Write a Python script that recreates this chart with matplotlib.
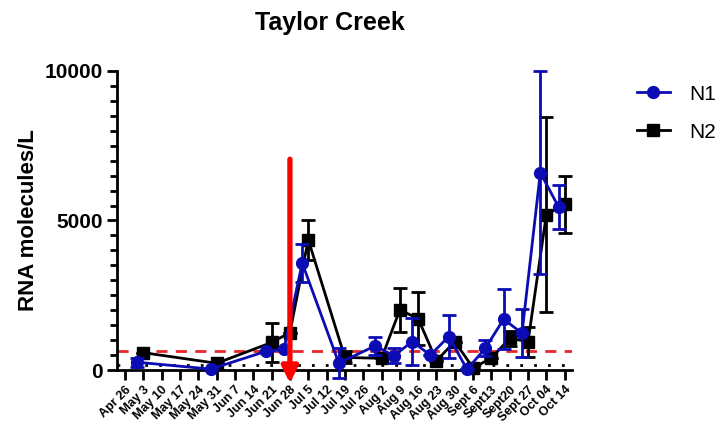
import numpy as np
import matplotlib
matplotlib.use("Agg")
import matplotlib.pyplot as plt
from matplotlib.lines import Line2D

plt.rcParams['font.family'] = ['Liberation Sans', 'DejaVu Sans']

# week labels on the x axis
weeks = ["Apr 26", "May 3", "May 10", "May 17", "May 24", "May 31", "Jun 7",
         "Jun 14", "Jun 21", "Jun 28", "Jul 5", "Jul 12", "Jul 19", "Jul 26",
         "Aug 2", "Aug 9", "Aug 16", "Aug 23", "Aug 30", "Sept 6", "Sept13",
         "Sept20", "Sept 27", "Oct 04", "Oct 14"]

# weeks that were sampled
sampled = ["May 3", "May 31", "Jun 21", "Jun 28", "Jul 5", "Jul 19", "Aug 2",
           "Aug 9", "Aug 16", "Aug 23", "Aug 30", "Sept 6", "Sept13", "Sept20",
           "Sept 27", "Oct 04", "Oct 14"]

n1 = [260, 30, 620, 690, 3580, 230, 810, 470, 950, 500, 1120, 20, 730, 1700,
      1230, 6600, 5450]
n1_err = [150, 0, 0, 0, 650, 500, 310, 250, 780, 0, 730, 0, 270, 1000,
          800, 3400, 750]

n2 = [580, 225, 920, 1250, 4360, 420, 390, 2010, 1720, 310, 950, 70, 400, 1060,
      950, 5200, 5540]
n2_err = [0, 0, 650, 0, 670, 200, 0, 740, 880, 0, 0, 0, 0, 250,
          500, 3250, 950]

threshold = 620   # red dashed line
lod = 170         # black dotted line
event_week = "Jun 28"
arrow_top = 7050

blue = '#0c0cb4'

fig = plt.figure(figsize=(7.22, 4.33), dpi=100)
ax = fig.add_axes([117/722, 1-370/433, (572-117)/722, (370-71)/433])

pos = np.array([weeks.index(w) for w in sampled])

# N2 first so N1 ends up on top
ax.errorbar(pos, n2, yerr=n2_err, color='black', marker='s', markersize=8,
            lw=2, elinewidth=2, capsize=5, capthick=2,
            clip_on=False, zorder=3)
ax.errorbar(pos - 0.33, n1, yerr=n1_err, color=blue, marker='o', markersize=8.5,
            lw=2, elinewidth=2, capsize=5, capthick=2,
            clip_on=False, zorder=4)

ax.axhline(threshold, color='#e8262a', ls=(0, (4, 3)), lw=2, zorder=2)
ax.axhline(lod, color='black', ls=(0, (1, 4)), lw=2, zorder=2)

ex = weeks.index(event_week)
ax.annotate('', xy=(ex, -440), xytext=(ex, arrow_top),
            arrowprops=dict(arrowstyle='-|>', color='red', lw=3.8,
                            mutation_scale=24, shrinkA=0, shrinkB=0),
            annotation_clip=False, zorder=6)

ax.set_xlim(-0.44, 24.4)
ax.set_ylim(0, 10000)
ax.set_yticks([0, 5000, 10000])
ax.set_yticks(np.arange(0, 10001, 500), minor=True)
ax.set_xticks(range(len(weeks)))
ax.set_xticklabels(weeks, rotation=45, ha='right', rotation_mode='anchor',
                   fontsize=9, fontweight='bold')
for lab in ax.get_yticklabels():
    lab.set_fontweight('bold')
ax.tick_params(axis='y', which='major', labelsize=15, length=7, width=2)
ax.tick_params(axis='y', which='minor', length=5, width=2)
ax.tick_params(axis='x', length=7, width=2, pad=3)

for s in ['top', 'right']:
    ax.spines[s].set_visible(False)
for s in ['left', 'bottom']:
    ax.spines[s].set_linewidth(2)

ax.set_ylabel('RNA molecules/L', fontsize=16, fontweight='bold', labelpad=4)
fig.text(330/722, 1-23/433, 'Taylor Creek', fontsize=18, fontweight='bold',
         ha='center', va='center')

handles = [Line2D([], [], color=blue, marker='o', markersize=8.5, lw=2),
           Line2D([], [], color='black', marker='s', markersize=8, lw=2)]
fig.legend(handles, ['N1', 'N2'], loc='upper left',
           bbox_to_anchor=(618/722, 1-66/433), frameon=False, fontsize=15,
           handlelength=1.6, labelspacing=0.9, handletextpad=0.9)

fig.savefig('out.png', dpi=100)
